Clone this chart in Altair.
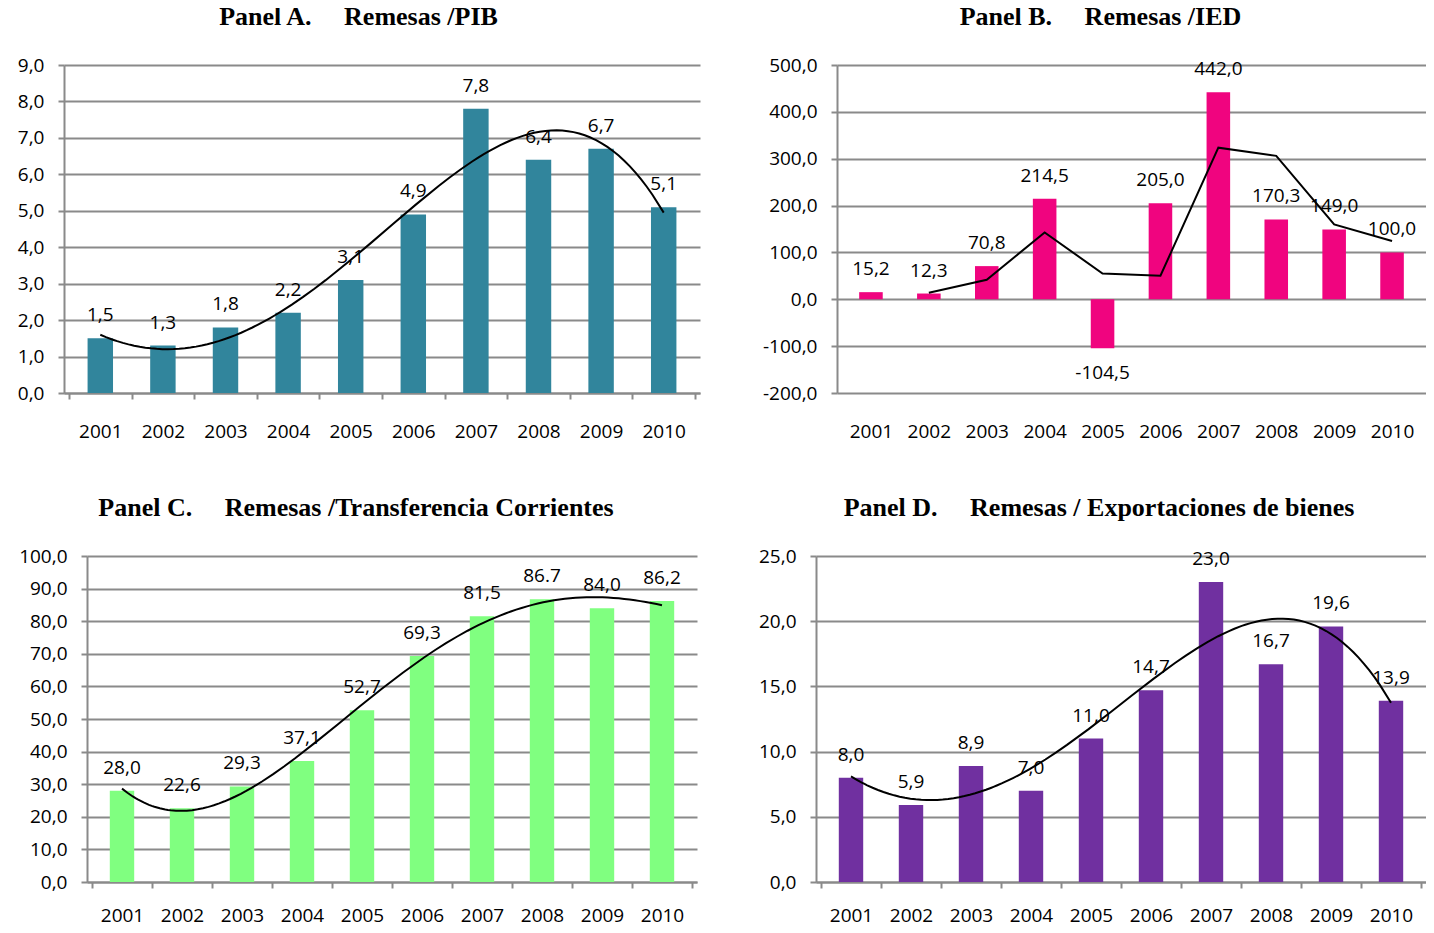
import altair as alt
import pandas as pd

years = [2001, 2002, 2003, 2004, 2005, 2006, 2007, 2008, 2009, 2010]

pib = [1.5, 1.3, 1.8, 2.2, 3.1, 4.9, 7.8, 6.4, 6.7, 5.1]
pib_labels = ["1,5", "1,3", "1,8", "2,2", "3,1", "4,9", "7,8", "6,4", "6,7", "5,1"]

ied = [15.2, 12.3, 70.8, 214.5, -104.5, 205.0, 442.0, 170.3, 149.0, 100.0]
ied_labels = ["15,2", "12,3", "70,8", "214,5", "-104,5", "205,0", "442,0", "170,3", "149,0", "100,0"]

transf = [28.0, 22.6, 29.3, 37.1, 52.7, 69.3, 81.5, 86.7, 84.0, 86.2]
transf_labels = ["28,0", "22,6", "29,3", "37,1", "52,7", "69,3", "81,5", "86.7", "84,0", "86,2"]

export = [8.0, 5.9, 8.9, 7.0, 11.0, 14.7, 23.0, 16.7, 19.6, 13.9]
export_labels = ["8,0", "5,9", "8,9", "7,0", "11,0", "14,7", "23,0", "16,7", "19,6", "13,9"]

FONT = "Open Sans"
FS = 19
SERIF = "Liberation Serif"
GRID = "#8a8a8a"
SP = "\u00a0" * 5
LABEL_EXPR = "replace(replace(format(datum.value, '.1f'), '.', ','), '\u2212', '-')"
BASE_YEAR = 2000

centers = [y - BASE_YEAR for y in years]
edges = [c - 0.5 for c in centers] + [centers[-1] + 0.5]
xticks = sorted(centers + edges)


def panel(values, labels, color, title, ymin, ymax, step, width, height, extent,
          trend="poly", title_dx=0, shift=0, title_offset=5, xpad=23):
    df = pd.DataFrame({"year": years, "v": values, "label": labels})
    base = alt.Chart(df).transform_calculate(t=f"datum.year - {BASE_YEAR}")
    yscale = alt.Scale(domain=[ymin, ymax], nice=False, zero=False)
    ticks = [ymin + i * step for i in range(int(round((ymax - ymin) / step)) + 1)]
    yaxis = alt.Axis(
        title=None, values=ticks, labelExpr=LABEL_EXPR, grid=True,
        gridColor=GRID, gridWidth=2, domainColor=GRID, domainWidth=2,
        tickColor=GRID, tickWidth=2, tickSize=6, labelPadding=14,
        labelFont=FONT, labelFontSize=FS, labelColor="#000000",
        labelOverlap=False, labelFlush=False,
        minExtent=extent, maxExtent=extent, offset=shift,
    )
    xscale = alt.Scale(domain=[edges[0], edges[-1]], range=[-shift, width],
                       nice=False, zero=False)
    neg_present = ymin < 0
    xaxis = alt.Axis(
        title=None, values=xticks, labelAngle=0, labelFont=FONT,
        labelExpr=f"datum.value % 1 == 0 ? '' + (datum.value + {BASE_YEAR}) : ''",
        labelFontSize=FS, labelColor="#000000",
        labelPadding=xpad + 6 if neg_present else xpad,
        labelOverlap=False, labelFlush=False,
        domain=not neg_present, domainColor=GRID, domainWidth=2,
        ticks=not neg_present, tickColor=GRID, tickWidth=2, tickSize=6,
        tickOpacity={"condition": {"test": "datum.value % 1 == 0", "value": 0},
                     "value": 1},
        grid=False,
    )
    xenc = alt.X("t:Q", scale=xscale, axis=xaxis)
    yenc = alt.Y("v:Q", scale=yscale, axis=yaxis)
    bar_w = 0.4 * (width + shift) / len(years)
    bars = base.mark_bar(color=color, size=bar_w).encode(x=xenc, y=yenc)
    pos = base.transform_filter("datum.v >= 0").mark_text(
        dy=-23, baseline="middle", font=FONT, fontSize=FS, color="#000000"
    ).encode(x=xenc, y=yenc, text="label:N")
    neg = base.transform_filter("datum.v < 0").mark_text(
        dy=25, baseline="middle", font=FONT, fontSize=FS, color="#000000"
    ).encode(x=xenc, y=yenc, text="label:N")

    if trend == "poly":
        line = base.transform_regression(
            "t", "v", method="poly", order=4
        ).mark_line(color="black", strokeWidth=2).encode(x=xenc, y=yenc)
    else:
        line = base.transform_window(
            ma="mean(v)", frame=[-1, 0], sort=[alt.SortField("year")]
        ).transform_filter(f"datum.year > {years[0]}").mark_line(
            color="black", strokeWidth=2
        ).encode(
            x=xenc,
            y=alt.Y("ma:Q", scale=yscale, axis=yaxis),
        )
    return alt.layer(bars, pos, neg, line).properties(
        width=width, height=height,
        title=alt.TitleParams(
            title, font=SERIF, fontSize=26, fontWeight="bold", color="#000000",
            anchor="middle", baseline="alphabetic", offset=title_offset,
            dx=title_dx,
        ),
    )


pa = panel(pib, pib_labels, "#31859C", "Panel A." + SP + "Remesas /PIB",
           0, 9, 1, 613, 328, 56, "poly", -35, shift=23)
pb = panel(ied, ied_labels, "#F0047F", "Panel B." + SP + "Remesas /IED",
           -200, 500, 100, 589, 328, 87, "ma", -31)
pc = panel(transf, transf_labels, "#80FF80",
           "Panel C." + SP + "Remesas /Transferencia Corrientes",
           0, 100, 10, 610, 326, 79, "poly", -36, xpad=18)
pd_ = panel(export, export_labels, "#7030A0",
            "Panel D." + SP + "Remesas / Exportaciones de bienes",
            0, 25, 5, 610, 326, 66, "poly", -22, xpad=18)

chart = alt.concat(
    pa, pb, pc, pd_, columns=2, align="none",
    spacing={"row": 54, "column": 27},
).properties(
    padding={"left": 0, "top": -4, "right": 0, "bottom": 0},
    background="white",
).configure_view(stroke=None)

chart.save("out.html", embed_options={"renderer": "svg", "actions": False})
